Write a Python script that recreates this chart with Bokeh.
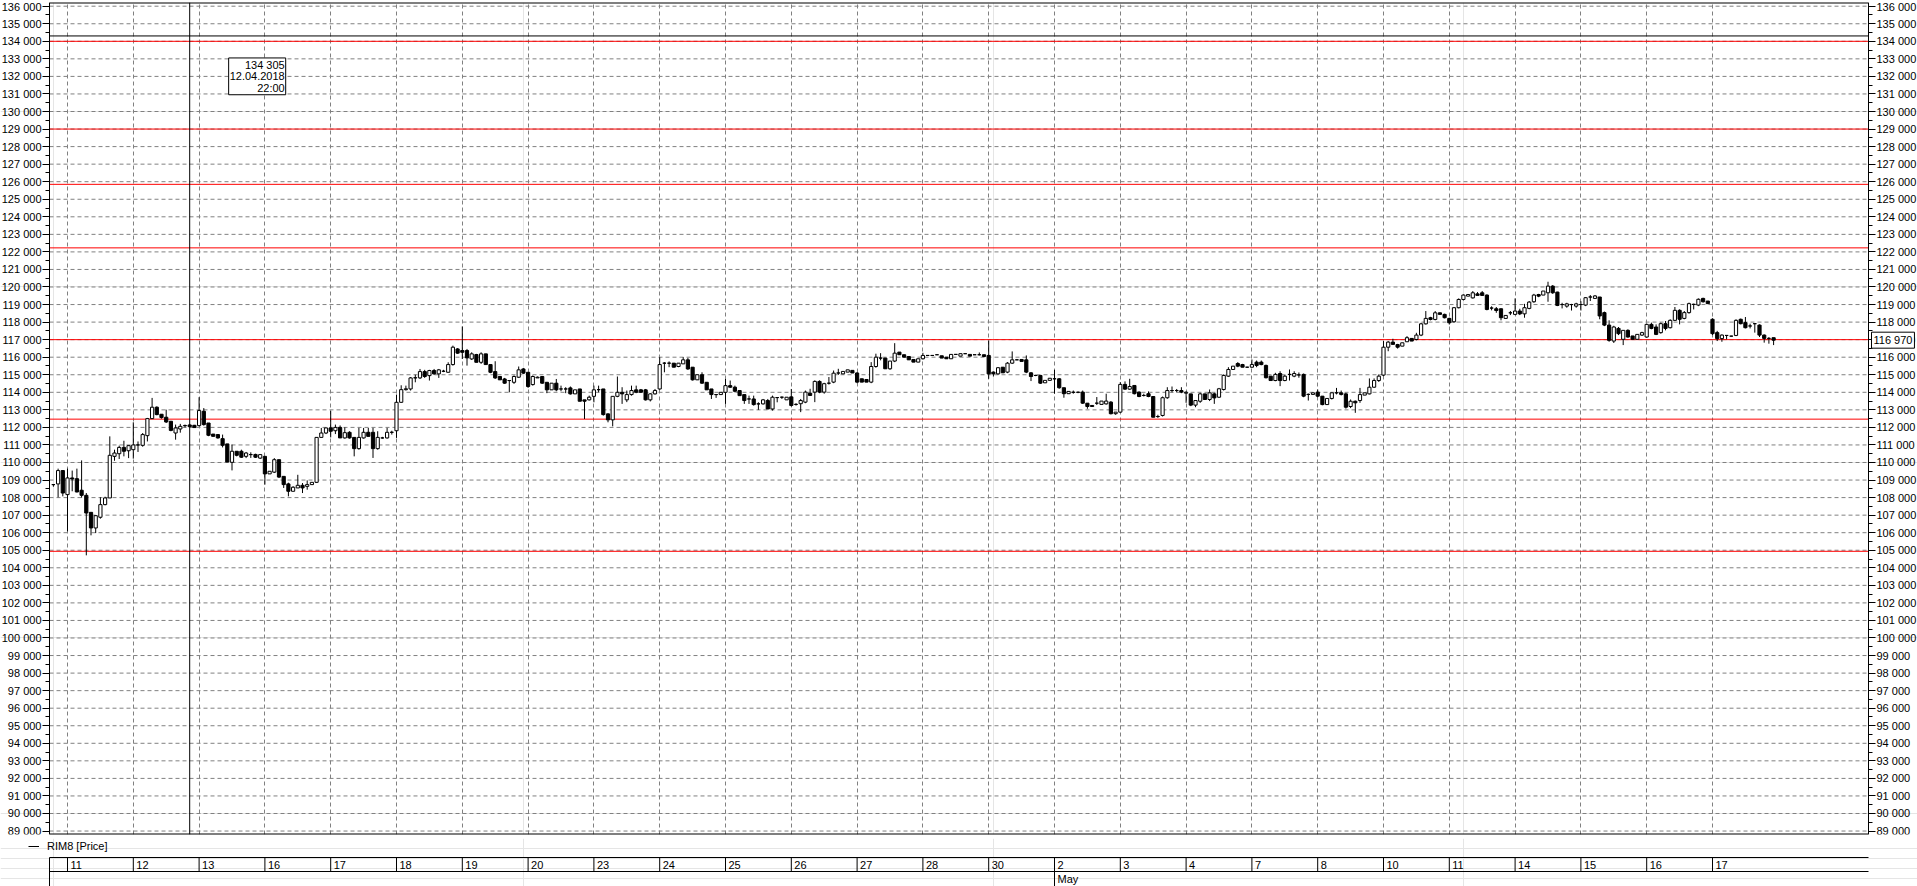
from bokeh.plotting import figure
from bokeh.models import (ColumnDataSource, Range1d, FixedTicker, LinearAxis, Span, Label, Grid,
                          Legend, LegendItem)
from bokeh.layouts import column
from bokeh.embed import file_html
from bokeh.resources import INLINE
from bokeh.core.properties import value

# ---------------- data: hourly RIM8 candles (Apr 10 21:00 ... May 17 23:00) ----------------
open_ = [
    108740, 108780, 109540,
    108170, 109120, 109080, 108420, 108130, 107160, 106270, 106880, 107600, 107980, 110350, 110500, 110860, 110670,
    110730, 111000, 110980, 111530, 112500, 113150, 112750, 112580, 112350, 111680, 111910, 112090, 112140, 112120,
    112100, 112920, 112250, 111620, 111590, 111360, 111060, 110010, 110640, 110640, 110350, 110450, 110460, 110250,
    110350, 109350, 109450, 110160, 109210, 108780, 108360, 108550, 108700, 108640, 108740, 108870, 111430, 111680,
    111970, 111810, 112000, 111400, 111720, 111430, 110790, 111400, 111720, 111720, 110790, 111400, 111400, 111720,
    111810, 113430, 114150, 114190, 114820, 114820, 115180, 114950, 115240, 115050, 115200, 115140, 115580, 116470,
    116380, 116380, 115900, 116150, 115710, 116190, 115580, 115180, 114900, 114760, 114670, 114570, 114860, 115330,
    115140, 114440, 114820, 114900, 114570, 114140, 114520, 114190, 114190, 114250, 113910, 114190, 113570, 113570,
    113770, 114150, 114190, 112770, 112430, 113770, 114000, 113570, 113870, 114140, 114140, 114140, 113570, 113910,
    114190, 115660, 115660, 115660, 115470, 115620, 115850, 115430, 114710, 115000, 114570, 114190, 113870, 113870,
    114000, 114380, 114290, 114100, 113870, 113620, 113620, 113340, 113340, 113530, 113050, 113700, 113720, 113570,
    113740, 113310, 113350, 113440, 113950, 114010, 114620, 114010, 114520, 114580, 115100, 115050, 115150, 115250,
    115100, 114770, 114730, 114580, 115470, 115950, 115950, 115340, 115780, 116290, 116140, 116040, 115870, 115720,
    115910, 116100, 116100, 116140, 116080, 116000, 115910, 116160, 116060, 116200, 116160, 116140, 116140, 116140,
    116100, 115150, 115050, 115430, 115150, 115660, 115850, 115870, 115850, 115110, 114960, 114960, 114540, 114680,
    114770, 114770, 114260, 113920, 114000, 114000, 114010, 113380, 113250, 113380, 113310, 113340, 113440, 112780,
    112870, 114450, 114180, 114390, 114010, 113820, 113920, 113760, 112620, 112680, 113690, 114100, 114100, 114100,
    113950, 113910, 113270, 113490, 113910, 113590, 113910, 113720, 114160, 114920, 115300, 115640, 115580, 115430,
    115430, 115720, 115720, 115530, 114920, 114670, 115070, 114670, 115020, 114920, 114990, 115020, 113880, 113880,
    114010, 113780, 113300, 113650, 113970, 113970, 113910, 113190, 113490, 113530, 113840, 113910, 114290, 114670,
    114980, 116570, 116860, 116720, 116630, 116880, 117070, 117010, 117260, 117900, 118250, 118150, 118530, 118440,
    118210, 118020, 118820, 119290, 119480, 119380, 119610, 119670, 119540, 118800, 118760, 118760, 118210, 118530,
    118440, 118630, 118470, 118780, 119160, 119570, 119540, 119670, 120050, 119710, 119000, 118910, 119000, 118910,
    119000, 118970, 119430, 119350, 119430, 118540, 117830, 116920, 117640, 117020, 117530, 117210, 117020, 117260,
    117150, 117870, 117720, 117400, 117910, 117680, 118100, 118670, 118210, 118540, 119010, 118970, 119350, 119200,
    118160, 117400, 117060, 117240, 117200, 117240, 118160, 117970, 117780, 117910, 117830, 117260, 117070, 117110,
]
high = [
    108760, 109650, 109560,
    109650, 109540, 109650, 110120, 108260, 107160, 107000, 108020, 108050, 111490, 110730, 110960, 111240, 110960,
    112290, 111200, 111680, 112540, 113680, 113200, 112750, 113010, 112350, 112160, 112200, 112160, 112200, 112140,
    113720, 113100, 112250, 111620, 111620, 111590, 111060, 111020, 110640, 110730, 110600, 110580, 110500, 110450,
    110350, 109500, 110250, 110160, 109210, 108850, 108650, 109300, 108830, 108980, 108870, 111430, 111970, 111970,
    112950, 112160, 112110, 112000, 111780, 111430, 111970, 111970, 111970, 111970, 111780, 111460, 111970, 111810,
    113870, 114400, 114380, 114870, 115000, 115330, 115280, 115280, 115330, 115330, 115280, 115710, 116660, 116520,
    117750, 116470, 116280, 116190, 116280, 116190, 115580, 115770, 114900, 114820, 114670, 114960, 115470, 115380,
    115140, 114960, 114900, 114900, 114570, 114520, 114760, 114380, 114290, 114330, 114140, 114190, 113570, 113810,
    114380, 114380, 114190, 112800, 113770, 114900, 114290, 114100, 114380, 114380, 114190, 114190, 113950, 114190,
    116000, 115720, 115760, 115660, 115660, 116000, 115960, 115430, 115000, 115140, 114570, 114190, 113870, 114000,
    114760, 114670, 114380, 114100, 113870, 113810, 113810, 113430, 113620, 113620, 113810, 113720, 113760, 113720,
    114190, 113380, 113620, 114100, 114200, 114680, 114680, 114540, 114870, 115240, 115340, 115190, 115280, 115250,
    115150, 114770, 114730, 115720, 116200, 116230, 115950, 115780, 116800, 116290, 116140, 116040, 115870, 115910,
    116250, 116100, 116100, 116140, 116080, 116000, 116160, 116160, 116200, 116240, 116160, 116140, 116270, 116140,
    116950, 115190, 115440, 115430, 115720, 116330, 115900, 115870, 116100, 115150, 115000, 114960, 114680, 114800,
    115280, 114810, 114260, 114050, 114100, 114050, 114100, 113380, 113250, 113730, 113500, 113920, 113500, 112870,
    114580, 114620, 114770, 114390, 114050, 113920, 114050, 113760, 112720, 113760, 114290, 114330, 114190, 114290,
    114060, 113910, 113530, 113970, 113910, 114160, 113970, 114250, 115020, 115430, 115490, 115720, 115620, 115450,
    115870, 115810, 115810, 115580, 114920, 115110, 115200, 114980, 115300, 115200, 115130, 115070, 113930, 113970,
    114160, 113780, 113650, 113970, 114250, 114100, 113970, 113590, 113530, 114250, 113970, 114790, 114790, 115020,
    116920, 116920, 117050, 116760, 116820, 117200, 117070, 117390, 117960, 118630, 118300, 118630, 118530, 118480,
    118250, 118860, 119350, 119580, 119570, 119770, 119710, 119770, 119580, 118900, 118860, 118780, 118380, 118630,
    119350, 118760, 119040, 119200, 119610, 119610, 119770, 120300, 120110, 119730, 119100, 119100, 119040, 119100,
    119190, 119430, 119540, 119540, 119430, 118600, 118100, 117790, 117720, 117530, 117590, 117210, 117300, 117450,
    117910, 117970, 117870, 117970, 118060, 118160, 118860, 118730, 118630, 119110, 119050, 119350, 119390, 119200,
    118220, 117500, 117300, 117260, 117220, 118160, 118200, 118290, 117910, 117910, 117870, 117300, 117150, 117110,
]
low = [
    108620, 108020, 108070,
    106080, 108360, 108300, 108000, 104710, 105850, 105980, 106800, 107560, 107980, 110100, 110200, 110350, 110250,
    110220, 110600, 110900, 111200, 112480, 112690, 112500, 112250, 111780, 111300, 111700, 112000, 112020, 111980,
    112060, 112100, 111500, 111490, 111360, 110860, 110030, 109550, 110350, 110260, 110250, 110260, 110260, 110200,
    108740, 109350, 109400, 109120, 108550, 108070, 108360, 108550, 108260, 108450, 108740, 108830, 111430, 111620,
    111430, 111620, 111400, 111360, 111360, 110350, 110730, 111360, 111490, 110260, 110730, 111360, 111360, 111590,
    111400, 113400, 114100, 114100, 114570, 114760, 114820, 114670, 115000, 114820, 115150, 115140, 115520, 116190,
    115900, 115520, 115840, 115710, 115620, 115580, 115090, 114760, 114710, 114480, 114000, 114480, 114820, 115050,
    114250, 114380, 114820, 114480, 113950, 114140, 114060, 114060, 113950, 113870, 113910, 113490, 112480, 113530,
    113430, 114000, 112670, 112290, 112060, 113720, 113340, 113440, 113810, 113950, 114000, 113530, 113480, 113870,
    114140, 115140, 115430, 115430, 115430, 115620, 115280, 114670, 114710, 114480, 114140, 113620, 113680, 113870,
    113340, 114250, 114000, 113810, 113340, 113340, 113240, 113000, 113300, 113050, 112960, 113430, 113620, 113570,
    113190, 113240, 112870, 113380, 113890, 113440, 113950, 113920, 114440, 114520, 114990, 115050, 115150, 115100,
    114520, 114580, 114580, 114520, 115400, 115820, 115340, 115280, 115720, 116140, 116000, 115850, 115720, 115720,
    115870, 116100, 116100, 116140, 115950, 115910, 115910, 116160, 116060, 116200, 116060, 116140, 116100, 116040,
    114770, 114900, 115010, 115110, 115090, 115620, 115850, 115760, 115090, 114640, 114920, 114480, 114540, 114680,
    113920, 114200, 113690, 113920, 113920, 113950, 113340, 113060, 113190, 113280, 113310, 113300, 112740, 112720,
    112830, 114140, 114140, 113880, 113720, 113760, 113720, 112580, 112540, 112620, 113630, 114000, 114000, 113950,
    113400, 113210, 113150, 113400, 113590, 113500, 113340, 113680, 114100, 114880, 115300, 115430, 115430, 115400,
    115400, 115430, 115540, 114790, 114670, 114630, 114350, 114630, 114670, 114860, 114830, 113720, 113530, 113880,
    113720, 113260, 113300, 113590, 113880, 113820, 113070, 113100, 112830, 113400, 113840, 113880, 114250, 114590,
    114920, 116340, 116820, 116490, 116630, 116880, 116920, 116960, 117200, 117860, 118100, 118100, 118440, 118210,
    117860, 117960, 118780, 119230, 119480, 119340, 119520, 119520, 118670, 118670, 118530, 118100, 118210, 118400,
    118400, 118400, 118250, 118730, 119100, 119420, 119540, 119160, 119610, 118910, 118780, 118820, 118660, 118820,
    118660, 118910, 119200, 119350, 118160, 117770, 116880, 116810, 117260, 116690, 117110, 117020, 117020, 117210,
    117110, 117590, 117260, 117340, 117530, 117640, 118060, 117870, 118160, 118480, 118720, 118910, 119110, 119050,
    117260, 116920, 116880, 117020, 117180, 117200, 117870, 117640, 117640, 117400, 117150, 116830, 116770, 116690,
]
close = [
    108740, 109540, 108260,
    109120, 109060, 108320, 108130, 107120, 106270, 106970, 107600, 107980, 110410, 110540, 110860, 110640, 110960,
    111000, 111000, 111590, 112500, 113150, 112730, 112560, 112310, 111830, 111970, 112060, 112110, 112040, 111990,
    112960, 112160, 111550, 111490, 111400, 110980, 110030, 110640, 110410, 110300, 110540, 110450, 110300, 110450,
    109350, 109500, 110160, 109170, 108740, 108360, 108590, 108700, 108550, 108740, 108870, 111430, 111680, 111970,
    111780, 112000, 111400, 111700, 111400, 110790, 111430, 111720, 111490, 110790, 111430, 111400, 111720, 111720,
    113430, 114150, 114200, 114820, 114830, 115180, 114900, 115240, 115050, 115280, 115200, 115580, 116570, 116230,
    116280, 115960, 116190, 115710, 116190, 115580, 115140, 114820, 114710, 114520, 114670, 114900, 115280, 115090,
    114330, 114900, 114860, 114520, 114140, 114520, 114140, 114190, 114190, 113910, 114140, 113490, 113490, 113720,
    114140, 114150, 112730, 112430, 113770, 114000, 113910, 113870, 114100, 114000, 114000, 113570, 113910, 114100,
    115580, 115660, 115660, 115430, 115660, 115850, 115330, 114710, 115000, 114520, 114140, 113870, 113870, 114000,
    114380, 114290, 114060, 113810, 113530, 113620, 113300, 113340, 113570, 113050, 113720, 113700, 113720, 113720,
    113250, 113310, 113530, 114010, 113820, 114620, 114010, 114490, 114520, 115090, 115100, 115190, 115280, 115100,
    114580, 114580, 114580, 115470, 116000, 115950, 115340, 115780, 116230, 116140, 116000, 115850, 115720, 115910,
    116100, 116100, 116100, 116140, 115950, 115910, 116160, 116160, 116200, 116200, 116060, 116140, 116140, 116040,
    115050, 115050, 115400, 115110, 115660, 115850, 115850, 115760, 115150, 114900, 114960, 114520, 114680, 114800,
    114770, 114260, 113920, 114050, 114000, 114000, 113380, 113190, 113190, 113380, 113500, 113500, 112780, 112870,
    114450, 114180, 114330, 113920, 113760, 113820, 113760, 112580, 112620, 113690, 114100, 114100, 114100, 114010,
    114000, 113270, 113530, 113910, 113590, 113970, 113680, 114200, 114960, 115300, 115490, 115490, 115430, 115430,
    115580, 115530, 115580, 114830, 114670, 115020, 114670, 114920, 115020, 115070, 114990, 113780, 113880, 113970,
    113780, 113300, 113650, 113970, 113970, 113880, 113150, 113490, 113400, 113870, 113970, 114290, 114670, 114920,
    116570, 116860, 116730, 116570, 116820, 117110, 116920, 117260, 117900, 118210, 118150, 118530, 118440, 118250,
    117960, 118820, 119290, 119540, 119570, 119670, 119520, 119520, 118720, 118800, 118660, 118250, 118380, 118530,
    118630, 118470, 118820, 119140, 119540, 119480, 119770, 120050, 119670, 118950, 119000, 119040, 119000, 119040,
    119000, 119390, 119430, 119490, 118350, 117830, 116960, 117720, 117340, 117530, 117150, 117020, 117300, 117400,
    117870, 117640, 117300, 117910, 117640, 118100, 118670, 118160, 118540, 119050, 119010, 119300, 119160, 119050,
    117340, 117060, 117260, 117240, 117200, 118100, 117910, 117680, 117780, 117910, 117260, 117070, 117070, 116970,
]

bars_before_first_day = 3          # Apr 10 evening bars
bars_per_day = 14                  # 10:00 ... 23:00
day_labels = ["11", "12", "13", "16", "17", "18", "19", "20", "23", "24", "25", "26", "27", "28",
              "30", "2", "3", "4", "7", "8", "10", "11", "14", "15", "16", "17"]
month_labels = ["May"]
month_first_day = [15]             # position in day_labels where "May" starts

levels = [134000, 129000, 125850, 122230, 117000, 112470, 104940]   # red horizontal levels
cross_bar = 29                     # 12.04.2018 22:00
cross_price = 134305
cross_text = ["134 305", "12.04.2018", "22:00"]
last_price = 116970
last_price_text = "116 970"
series_name = "RIM8 [Price]"

y_ticks = list(range(89000, 136001, 1000))
y_minor = list(range(88500, 136501, 1000))
y_tick_labels = ["%d 000" % (t // 1000) for t in y_ticks]

for arr in (high, low, close):
    assert len(arr) == len(open_), (len(arr), len(open_))

n = len(open_)
xs = list(range(n))
hi = [max(h, o, c) for h, o, c in zip(high, open_, close)]
lo = [min(l, o, c) for l, o, c in zip(low, open_, close)]
day_starts = [bars_before_first_day + bars_per_day * k for k in range(len(day_labels))]

# ---------------- layout ----------------
FONT = "Liberation Sans"
FS = "11px"
W = 1917
H1, H2 = 838, 48
AXIS_L_PX, AXIS_R_PX = 49, 1868          # where the two price scales stand (px)
PX_PER_BAR = 4.7
axis_left_bar = -0.83
axis_right_bar = axis_left_bar + (AXIS_R_PX - AXIS_L_PX) / PX_PER_BAR
x_range = Range1d(axis_left_bar - AXIS_L_PX / PX_PER_BAR,
                  axis_left_bar + (W - AXIS_L_PX) / PX_PER_BAR)
y_range = Range1d(88803, 136211)

p = figure(width=W, height=H1, x_range=x_range, y_range=y_range,
           output_backend="svg", toolbar_location=None,
           x_axis_location=None, y_axis_location=None,
           min_border_left=0, min_border_right=0, min_border_top=2, min_border_bottom=4)
p.background_fill_color = "white"
p.border_fill_color = "white"
p.outline_line_color = None

GRID_COLOR = "#808080"
# horizontal grid between the two scales
p.segment(x0=axis_left_bar, x1=axis_right_bar, y0=y_ticks, y1=y_ticks,
          line_color=GRID_COLOR, line_dash="4 3", line_width=1)
# vertical grid at day starts
xgrid = Grid(dimension=0, ticker=FixedTicker(ticks=day_starts),
             grid_line_color=GRID_COLOR, grid_line_dash="4 3", grid_line_width=1)
p.add_layout(xgrid)
# chart border top / bottom
p.segment(x0=axis_left_bar, x1=axis_right_bar, y0=[y_range.start, y_range.end],
          y1=[y_range.start, y_range.end], line_color="black", line_width=2)

for side, loc in (("left", axis_left_bar), ("right", axis_right_bar)):
    ax = LinearAxis(fixed_location=loc)
    ax.ticker = FixedTicker(ticks=y_ticks, minor_ticks=y_minor)
    ax.major_label_overrides = dict(zip(y_ticks, y_tick_labels))
    ax.major_label_text_font = FONT
    ax.major_label_text_font_size = FS
    ax.major_label_text_color = "black"
    ax.major_label_standoff = 1
    ax.major_tick_out = 7
    ax.major_tick_in = 0
    ax.minor_tick_out = 4
    ax.minor_tick_in = 0
    ax.axis_line_color = "black"
    ax.major_tick_line_color = "black"
    ax.minor_tick_line_color = "black"
    p.add_layout(ax, side)

# red levels
p.segment(x0=axis_left_bar, x1=axis_right_bar, y0=levels, y1=levels,
          line_color="#ff0000", line_width=1)

# candles
src = ColumnDataSource(dict(x=xs, hi=hi, lo=lo))
p.segment(x0="x", y0="lo", x1="x", y1="hi", source=src, line_color="black", line_width=1)
up_x = [i for i in xs if close[i] >= open_[i]]
dn_x = [i for i in xs if close[i] < open_[i]]
up = ColumnDataSource(dict(x=up_x, top=[close[i] for i in up_x], bottom=[open_[i] for i in up_x]))
dn = ColumnDataSource(dict(x=dn_x, top=[open_[i] for i in dn_x], bottom=[close[i] for i in dn_x]))
p.vbar(x="x", top="top", bottom="bottom", width=0.68, source=up,
       fill_color="white", line_color="black", line_width=1)
p.vbar(x="x", top="top", bottom="bottom", width=0.68, source=dn,
       fill_color="black", line_color="black", line_width=1)

# crosshair
p.add_layout(Span(location=cross_bar, dimension="height", line_color="black", line_width=1))
p.segment(x0=[axis_left_bar], x1=[axis_right_bar], y0=[cross_price], y1=[cross_price],
          line_color="black", line_width=1)
p.add_layout(Label(x=cross_bar, y=cross_price, x_offset=96, y_offset=-22,
                   text="\n".join(cross_text), text_align="right", text_baseline="top",
                   text_font=FONT, text_font_size=FS, text_color="black",
                   text_line_height=0.95, padding=1,
                   border_line_color="black", border_line_width=1,
                   background_fill_color="white"))

# last price marker on the right scale
p.add_layout(Label(x=axis_right_bar, y=last_price, x_offset=3, text=last_price_text,
                   text_align="left", text_baseline="middle",
                   text_font=FONT, text_font_size=FS, text_color="black", padding=2,
                   border_line_color="black", border_line_width=1,
                   background_fill_color="white"))

# ---------------- bottom strip: legend + date scale (shares the chart's x scale) ----------------
p2 = figure(width=W, height=H2, x_range=x_range, y_range=Range1d(H2, 0),
            output_backend="svg", toolbar_location=None,
            x_axis_location=None, y_axis_location=None,
            min_border_left=0, min_border_right=0, min_border_top=0, min_border_bottom=0)
p2.outline_line_color = None
p2.background_fill_color = "white"
p2.border_fill_color = "white"

row_top, row_mid = 19, 33
p2.segment(x0=[axis_left_bar, axis_left_bar], x1=[axis_right_bar, axis_right_bar],
           y0=[row_top, row_mid], y1=[row_top, row_mid], line_color="black", line_width=1)
p2.segment(x0=[axis_left_bar], x1=[axis_left_bar], y0=[row_top], y1=[H2],
           line_color="black", line_width=1)
p2.segment(x0=day_starts, x1=day_starts, y0=row_top, y1=row_mid, line_color="black", line_width=1)
p2.text(x=day_starts, y=(row_top + row_mid) / 2, text=day_labels, x_offset=3,
        text_baseline="middle", text_align="left",
        text_font=value(FONT), text_font_size=FS, text_color="black")
month_x = [day_starts[k] for k in month_first_day]
p2.segment(x0=month_x, x1=month_x, y0=row_mid, y1=H2, line_color="black", line_width=1)
p2.text(x=month_x, y=(row_mid + H2) / 2, text=month_labels, x_offset=3,
        text_baseline="middle", text_align="left",
        text_font=value(FONT), text_font_size=FS, text_color="black")

# legend entry for the price series (renderer holds no visible points; only its style is used)
nan = float("nan")
dummy = p2.line(x=[nan, nan], y=[nan, nan], line_color="black", line_width=1)
legend = Legend(items=[LegendItem(label=series_name, renderers=[dummy])],
                location=(28, 34), orientation="vertical",
                glyph_width=11, glyph_height=12, label_height=12, label_standoff=8,
                padding=0, margin=0, spacing=0,
                border_line_color=None, background_fill_alpha=0,
                label_text_font=FONT, label_text_font_size=FS, label_text_color="black")
p2.add_layout(legend)

layout = column(p, p2, spacing=0)
open("out.html", "w").write(file_html(layout, INLINE))
